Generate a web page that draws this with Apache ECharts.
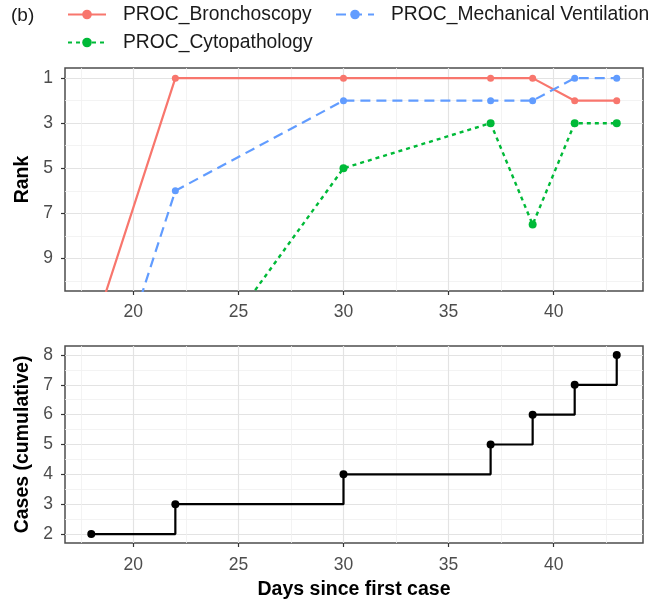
<!DOCTYPE html>
<html>
<head>
<meta charset="utf-8">
<script src="https://cdn.jsdelivr.net/npm/echarts@6/dist/echarts.min.js"></script>
<style>
html,body{margin:0;padding:0;background:#fff;}
#chart{width:653px;height:602px;}
</style>
</head>
<body>
<div id="chart"></div>
<script>
// ---- data ----
const seriesNames = ['PROC_Bronchoscopy', 'PROC_Cytopathology', 'PROC_Mechanical Ventilation'];
const bronchDays = [18, 22, 30, 37, 39, 41, 43];
const bronchRank = [12.5, 1, 1, 1, 1, 2, 2];
const mechDays = [18, 22, 30, 37, 39, 41, 43];
const mechRank = [17.5, 6, 2, 2, 2, 1, 1];
const cytoDays = [22, 30, 37, 39, 41, 43];
const cytoRank = [15.3, 5, 3, 7.5, 3, 3];
const caseDays = [18, 22, 30, 37, 39, 41, 43];
const caseCounts = [2, 3, 4, 5, 6, 7, 8];
const xTicks = [20, 25, 30, 35, 40];
const xMinor = [17.5, 22.5, 27.5, 32.5, 37.5, 42.5];
const rankTicks = [1, 3, 5, 7, 9];
const rankMinor = [2, 4, 6, 8, 10];
const caseTicks = [2, 3, 4, 5, 6, 7, 8];
const caseMinor = [2.5, 3.5, 4.5, 5.5, 6.5, 7.5];

const zip = (a, b) => a.map((v, i) => [v, b[i]]);

const FONT = '"Liberation Sans", Arial, Helvetica, sans-serif';
const X_MIN = 16.75, X_MAX = 44.25;
const RANK_MIN = 0.55, RANK_MAX = 10.45;
const CASE_MIN = 1.7, CASE_MAX = 8.3;

const majorGrid = '#e3e3e3';
const minorGrid = '#f0f0f0';
const tickColor = '#333333';
const labelStyle = { color: '#4d4d4d', fontSize: 17.5, fontFamily: FONT };
const nameStyle = { color: '#000', fontSize: 19.5, fontWeight: 'bold', fontFamily: FONT };

function mainAxis(gridIndex, min, max, ticks, margin, extra) {
  return Object.assign({
    type: 'value', gridIndex, min, max,
    axisLine: { show: false },
    axisTick: { show: true, length: 4, customValues: ticks, lineStyle: { color: tickColor, width: 1.2 } },
    axisLabel: Object.assign({ customValues: ticks, margin: margin }, labelStyle),
    splitLine: { show: true, lineStyle: { color: majorGrid, width: 1.2 } },
    minorSplitLine: { show: false }
  }, extra || {});
}
function minorAxis(gridIndex, min, max, ticks, extra) {
  return Object.assign({
    type: 'value', gridIndex, min, max,
    axisLine: { show: false },
    axisTick: { show: false, customValues: ticks },
    axisLabel: { show: false, customValues: ticks },
    splitLine: { show: true, lineStyle: { color: minorGrid, width: 0.8 } }
  }, extra || {});
}

const chart = echarts.init(document.getElementById('chart'), null, { renderer: 'canvas' });

const legendBase = {
  orient: 'horizontal', padding: 0, itemWidth: 38, itemHeight: 12,
  textStyle: { color: '#1a1a1a', fontSize: 19.3, fontFamily: FONT, padding: [0, 0, 0, 12] },
  selectedMode: false
};

const option = {
  animation: false,
  backgroundColor: '#fff',
  title: {
    text: '(b)', left: 11, top: 6, padding: 0,
    textStyle: { color: '#1a1a1a', fontSize: 19, fontWeight: 'normal', fontFamily: FONT }
  },
  legend: [
    Object.assign({}, legendBase, { data: [seriesNames[0]], left: 67, top: 5 }),
    Object.assign({}, legendBase, { data: [seriesNames[1]], left: 67, top: 33 }),
    Object.assign({}, legendBase, { data: [seriesNames[2]], left: 335, top: 5 })
  ],
  grid: [
    { left: 65, right: 10, top: 68, height: 223, show: true, borderColor: '#4d4d4d', borderWidth: 1.5, backgroundColor: 'transparent' },
    { left: 65, right: 10, top: 346, height: 197, show: true, borderColor: '#4d4d4d', borderWidth: 1.5, backgroundColor: 'transparent' }
  ],
  xAxis: [
    mainAxis(0, X_MIN, X_MAX, xTicks, 12),
    minorAxis(0, X_MIN, X_MAX, xMinor),
    mainAxis(1, X_MIN, X_MAX, xTicks, 13, {
      name: 'Days since first case', nameLocation: 'middle', nameGap: 37, nameTextStyle: nameStyle
    }),
    minorAxis(1, X_MIN, X_MAX, xMinor)
  ],
  yAxis: [
    mainAxis(0, RANK_MIN, RANK_MAX, rankTicks, 12, {
      inverse: true, name: 'Rank', nameLocation: 'middle', nameGap: 29, nameTextStyle: nameStyle
    }),
    minorAxis(0, RANK_MIN, RANK_MAX, rankMinor, { inverse: true }),
    mainAxis(1, CASE_MIN, CASE_MAX, caseTicks, 12, {
      name: 'Cases (cumulative)', nameLocation: 'middle', nameGap: 29, nameTextStyle: nameStyle
    }),
    minorAxis(1, CASE_MIN, CASE_MAX, caseMinor)
  ],
  series: [
    {
      name: seriesNames[0], type: 'line', xAxisIndex: 0, yAxisIndex: 0, clip: true,
      data: zip(bronchDays, bronchRank),
      color: '#F8766D', symbol: 'circle', symbolSize: 7, showAllSymbol: true,
      lineStyle: { width: 2.2, type: 'solid', color: '#F8766D' },
      itemStyle: { color: '#F8766D' }, z: 3
    },
    {
      name: seriesNames[1], type: 'line', xAxisIndex: 0, yAxisIndex: 0, clip: true,
      data: zip(cytoDays, cytoRank),
      color: '#00BA38', symbol: 'circle', symbolSize: 8, showAllSymbol: true,
      lineStyle: { width: 2.4, type: [4, 4], color: '#00BA38' },
      itemStyle: { color: '#00BA38' }, z: 3
    },
    {
      name: seriesNames[2], type: 'line', xAxisIndex: 0, yAxisIndex: 0, clip: true,
      data: zip(mechDays, mechRank),
      color: '#619CFF', symbol: 'circle', symbolSize: 7, showAllSymbol: true,
      lineStyle: { width: 2.2, type: [10, 6], color: '#619CFF' },
      itemStyle: { color: '#619CFF' }, z: 3
    },
    {
      name: 'Cases', type: 'line', xAxisIndex: 2, yAxisIndex: 2, step: 'end', clip: true,
      data: zip(caseDays, caseCounts),
      symbol: 'circle', symbolSize: 8, showAllSymbol: true,
      lineStyle: { width: 2.2, color: '#000' },
      itemStyle: { color: '#000' }, z: 3
    }
  ]
};
chart.setOption(option);
</script>
</body>
</html>
